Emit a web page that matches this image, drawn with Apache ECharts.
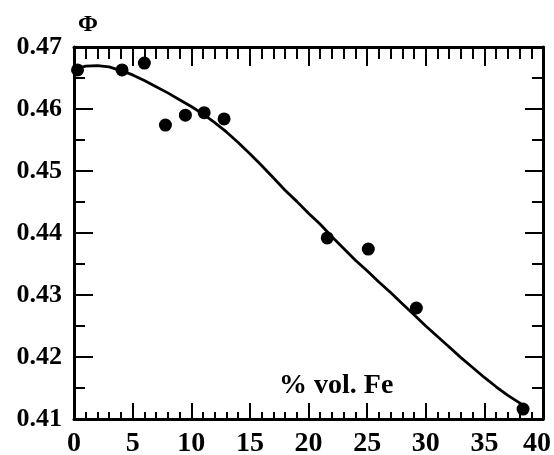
<!DOCTYPE html>
<html><head><meta charset="utf-8">
<script src="https://cdn.jsdelivr.net/npm/echarts@6/dist/echarts.min.js"></script>
<style>html,body{margin:0;padding:0;background:#fff}#c{width:554px;height:455px}</style>
</head><body><div id="c"></div>
<script>
var pointsX = [0.3, 4.1, 6.0, 7.8, 9.5, 11.1, 12.8, 21.6, 25.1, 29.2, 38.3];
var pointsY = [0.4663, 0.4663, 0.4674, 0.4574, 0.4590, 0.4594, 0.4584, 0.4392, 0.4374, 0.4279, 0.4116];
var curveX = [0,1,2,3,4,5,6,7,8,9,10,11,12,13,14,15,16,17,18,19,20,21,22,23,24,25,26,27,28,29,30,31,32,33,34,35,36,37,38,38.6];
var curveY = [0.4664,0.4669,0.4670,0.4668,0.4662,0.4655,0.4646,0.4636,0.4626,0.4615,0.4604,0.4592,0.4578,0.4563,0.4546,0.4528,0.4509,0.4489,0.4469,0.4451,0.4432,0.4414,0.4394,0.4375,0.4356,0.4339,0.4321,0.4304,0.4286,0.4268,0.4250,0.4233,0.4216,0.4199,0.4183,0.4167,0.4152,0.4138,0.4126,0.4118];
var xTicks = {min: 0, max: 40, step: 5};
var yTicks = {min: 0.41, max: 0.47, step: 0.01};
var yTitle = 'Φ';
var xTitle = '% vol. Fe';

var font = 'Liberation Serif';
var chart = echarts.init(document.getElementById('c'));
function zip(a, b) { return a.map(function (v, i) { return [v, b[i]]; }); }
var axLine = {show: true, onZero: false, lineStyle: {color: '#000', width: 3}};
chart.setOption({
  animation: false,
  backgroundColor: '#fff',
  grid: {left: 74, right: 11, top: 47, bottom: 36, containLabel: false, outerBoundsMode: 'none'},
  xAxis: [{
    type: 'value', min: xTicks.min, max: xTicks.max, interval: xTicks.step, position: 'bottom',
    axisLine: axLine,
    axisTick: {show: true, inside: true, length: 16, lineStyle: {color: '#000', width: 2}},
    minorTick: {show: true, splitNumber: 5, length: 7, lineStyle: {color: '#000', width: 2}},
    splitLine: {show: false},
    axisLabel: {margin: 11, color: '#000', fontFamily: font, fontWeight: 'bold', fontSize: 28,
      formatter: function (v) { return v === xTicks.max ? '{m|' + v + '}' : String(v); },
      rich: {m: {color: '#000', fontFamily: font, fontWeight: 'bold', fontSize: 28, padding: [0, 12, 0, 0]}}}
  }, {
    type: 'value', min: xTicks.min, max: xTicks.max, interval: xTicks.step, position: 'top',
    axisLine: axLine,
    axisTick: {show: true, inside: true, length: 19, lineStyle: {color: '#000', width: 2}},
    minorTick: {show: true, splitNumber: 5, length: 12, lineStyle: {color: '#000', width: 2}},
    splitLine: {show: false},
    axisLabel: {show: false}
  }],
  yAxis: [{
    type: 'value', min: yTicks.min, max: yTicks.max, interval: yTicks.step, position: 'left',
    axisLine: axLine,
    axisTick: {show: true, inside: true, length: 19, lineStyle: {color: '#000', width: 2}},
    minorTick: {show: true, splitNumber: 2, length: 11, lineStyle: {color: '#000', width: 2}},
    splitLine: {show: false},
    axisLabel: {margin: 12, color: '#000', fontFamily: font, fontWeight: 'bold', fontSize: 26,
      formatter: function (v) { return v.toFixed(2); }}
  }, {
    type: 'value', min: yTicks.min, max: yTicks.max, interval: yTicks.step, position: 'right',
    axisLine: axLine,
    axisTick: {show: true, inside: true, length: 18, lineStyle: {color: '#000', width: 2}},
    minorTick: {show: true, splitNumber: 2, length: 11, lineStyle: {color: '#000', width: 2}},
    splitLine: {show: false},
    axisLabel: {show: false}
  }],
  graphic: [
    {type: 'text', left: 78, top: 13, style: {text: yTitle, fill: '#000', font: 'bold 24px "Liberation Serif"'}},
    {type: 'text', left: 279, top: 372, style: {text: xTitle, fill: '#000', font: 'bold 28px "Liberation Serif"'}}
  ],
  series: [{
    type: 'line', xAxisIndex: 0, yAxisIndex: 0, data: zip(curveX, curveY),
    showSymbol: false, symbol: 'none', smooth: false,
    lineStyle: {color: '#000', width: 2.8}
  }, {
    type: 'scatter', xAxisIndex: 0, yAxisIndex: 0, data: zip(pointsX, pointsY),
    symbol: 'circle', symbolSize: 13, itemStyle: {color: '#000', opacity: 1}
  }]
});
</script></body></html>
